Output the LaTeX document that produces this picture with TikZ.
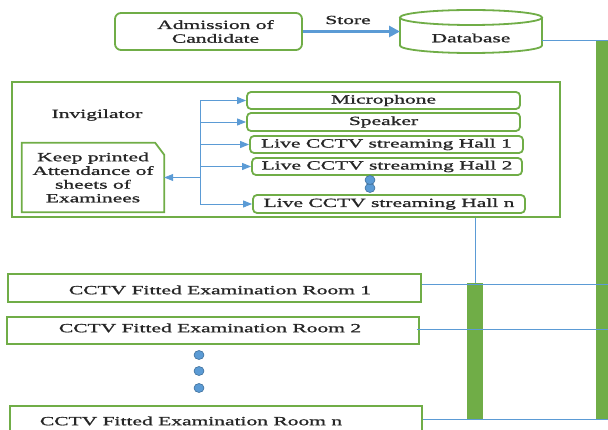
\documentclass[tikz,border=0pt]{standalone}
\usepackage{fontspec}
\setmainfont{Liberation Serif}[FakeStretch=1.72, FakeBold=1.2]
\usetikzlibrary{arrows.meta,calc}
\newcommand\diagfont{\fontsize{12.5}{13.7}\selectfont}
\definecolor{boxgreen}{HTML}{70AD47}
\definecolor{linkblue}{HTML}{5B9BD5}
\definecolor{dotedge}{HTML}{41719C}
\definecolor{inktext}{HTML}{262626}
\tikzset{
  rbox/.style={draw=boxgreen, line width=1.8pt, rounded corners=4pt, fill=white,
    inner sep=0pt, font=\diagfont, text=inktext},
  sbox/.style={draw=boxgreen, line width=1.8pt, fill=white, inner sep=0pt},
  frame/.style={draw=boxgreen, line width=2.2pt, inner sep=0pt},
  txt/.style={inner sep=0pt, font=\diagfont, align=center, text=inktext},
  link/.style={draw=linkblue, line width=0.9pt},
  linkarrow/.style={link, -{Triangle[length=9pt,width=7pt]}},
  storearrow/.style={draw=linkblue, line width=3pt, -{Triangle[length=11pt,width=11pt]}},
  greenbar/.style={fill=boxgreen, draw=none, inner sep=0pt},
  bluedot/.style={fill=linkblue, draw=dotedge, line width=0.6pt},
}
\begin{document}
\begin{tikzpicture}[x=1pt, y=-1pt]
\useasboundingbox (0,0) rectangle (608,430);
\coordinate (rim) at (608,0);

% --- admission and database -------------------------------------------
\node[rbox, rounded corners=6pt, minimum width=187pt, minimum height=37pt, align=center]
  (admit) at (208.5,31.5) {\hspace*{14pt}Admission of\\\hspace*{14pt}Candidate};

\draw[boxgreen, line width=1.8pt, fill=white]
  (400,17.5) -- (400,45.5)
  arc[start angle=180, end angle=360, x radius=71pt, y radius=7.5pt]
  -- (542,17.5);
\draw[boxgreen, line width=1.8pt, fill=white]
  (471,17.5) ellipse[x radius=71pt, y radius=7.5pt];
\node[txt] (db) at (471,38) {Database};
\coordinate (dbin) at (400,31.5);
\coordinate (dbout) at (542,40);

\draw[storearrow] (admit.east) -- (dbin);
\node[txt] (storelbl) at (348,20) {Store};

% --- invigilator panel ---------------------------------------------------
\node[frame, minimum width=548pt, minimum height=135pt] (inv) at (286,149.5) {};
\node[txt] (invlbl) at (97,115) {Invigilator};

\node[inner sep=0pt, minimum width=142pt, minimum height=69pt, font=\diagfont,
  text=inktext, align=center]
  (keep) at (93,177.5) {Keep printed\\Attendance of\\sheets of\\Examinees};
\draw[boxgreen, line width=1.8pt]
  (keep.south west) -- (keep.north west) -- ([xshift=-9pt]keep.north east)
  -- ([yshift=-12pt]keep.north east) -- (keep.south east) -- cycle;

\node[rbox, minimum width=273pt, minimum height=17pt] (mic)   at (383.5,100.5) {Microphone};
\node[rbox, minimum width=273pt, minimum height=18pt] (spk)   at (383.5,122)   {Speaker};
\node[rbox, minimum width=273pt, minimum height=17pt] (hall1) at (386.5,144.5) {Live CCTV streaming Hall 1};
\node[rbox, minimum width=270pt, minimum height=17pt] (hall2) at (387,166.5)   {Live CCTV streaming Hall 2};
\node[rbox, minimum width=272pt, minimum height=18pt] (halln) at (389,204)     {Live CCTV streaming Hall n};

\coordinate (bus) at (200,150);
\draw[link] (bus |- mic.west) -- (bus |- halln.west);
\foreach \t in {mic,spk,hall1,hall2,halln}
  \draw[linkarrow] (bus |- \t.west) -- (\t.west);
\draw[linkarrow] (bus |- keep.east) -- (keep.east);

\draw[bluedot] (370,188) ellipse[x radius=5pt, y radius=4.5pt];
\draw[bluedot] (370,180) ellipse[x radius=5pt, y radius=4.5pt];

% --- examination rooms ---------------------------------------------------
\node[sbox, minimum width=413pt, minimum height=28pt] (room1) at (214.5,288) {};
\node[sbox, minimum width=412pt, minimum height=27pt] (room2) at (213,330.5) {};
\node[sbox, minimum width=412pt, minimum height=39pt] (roomn) at (216,425.5) {};
\node[txt] (room1lbl) at (220,290) {CCTV Fitted Examination Room 1};
\node[txt] (room2lbl) at (210,328) {CCTV Fitted Examination Room 2};
\node[txt] (roomnlbl) at (191,421) {CCTV Fitted Examination Room n};

\foreach \y in {355,371,388}
  \draw[bluedot] (199,\y) ellipse[x radius=5pt, y radius=4.5pt];

% --- backbone bars and links ---------------------------------------------
\node[greenbar, minimum width=16pt, minimum height=136pt] (hub)   at (475,351) {};
\node[greenbar, minimum width=16pt, minimum height=379pt] (trunk) at (604,229.5) {};

\draw[link] (dbout) -- (dbout -| rim);
\draw[link] (inv.south -| hub) -- (hub.north);
\draw[link] ([yshift=4pt]room1.east) -- ([yshift=4pt]room1.east -| rim);
\draw[link] ([xshift=-3pt,yshift=1.5pt]room2.east) -- ([yshift=1.5pt]room2.east -| rim);
\draw[link] ([yshift=6.5pt]roomn.east) -- ([yshift=6.5pt]roomn.east -| rim);
\end{tikzpicture}
\end{document}
